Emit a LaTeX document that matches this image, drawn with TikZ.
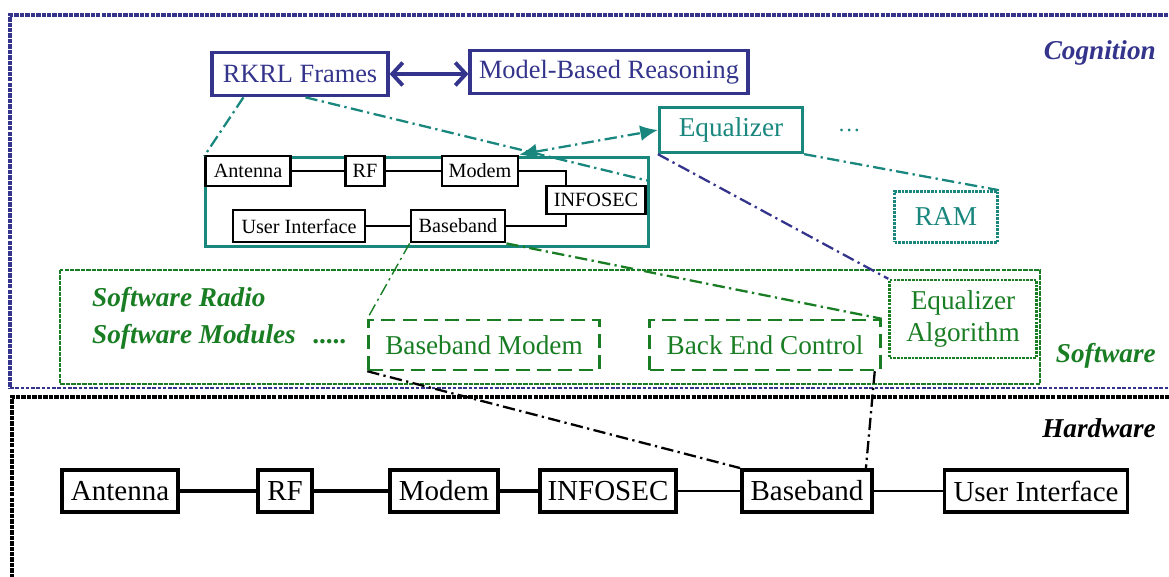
\documentclass[tikz,border=0pt]{standalone}
\usepackage{fontspec}
\setmainfont{Liberation Serif}
\usepackage{tikz}
\usetikzlibrary{arrows, arrows.meta, positioning, calc}

\definecolor{cogblue}{RGB}{52,52,140}
\definecolor{cogteal}{RGB}{25,135,125}
\definecolor{swgreen}{RGB}{25,125,35}

\begin{document}
\begin{tikzpicture}[x=0.2mm, y=-0.2mm,
    cogbox/.style={rectangle, draw=cogblue, line width=1.8pt, text=cogblue, fill=white, inner sep=0pt, minimum height=8.7mm, font=\fontsize{15}{18}\selectfont},
    eqbox/.style={rectangle, draw=cogteal, line width=1.9pt, text=cogteal, fill=white, inner sep=0pt, font=\fontsize{15.5}{18}\selectfont},
    smallbox/.style={rectangle, draw, line width=1.6pt, fill=white, inner sep=0pt, minimum height=6mm, font=\fontsize{11.5}{13}\selectfont},
    swbox/.style={rectangle, draw=swgreen, line width=1.4pt, dash pattern=on 8pt off 4pt, text=swgreen, inner sep=0pt, minimum width=46.2mm, minimum height=10mm, font=\fontsize{15.5}{18}\selectfont},
    hwbox/.style={rectangle, draw, line width=2.2pt, fill=white, inner sep=0pt, minimum height=8.4mm, font=\fontsize{16.5}{19}\selectfont},
    layerlabel/.style={anchor=east, font=\fontsize{15.5}{18}\selectfont\bfseries\itshape},
    layerframe/.style={line width=2pt, dash pattern=on 2.5pt off 0.6pt},
    link/.style={line width=1.3pt},
    dashdot/.style={line width=1.3pt, dash pattern=on 7pt off 2.5pt on 1.3pt off 2.5pt}]

    \useasboundingbox (0,0) rectangle (1169,577);

    % Layer frames
    \draw[layerframe, cogblue] (1190,15) -- (10,15) -- (10,388);
    \draw[cogblue, line width=0.8pt, dash pattern=on 2pt off 1pt] (10,388) -- (1190,388);
    \draw[layerframe, swgreen, line width=1.6pt] (60,270) rectangle (1040,384);
    \draw[layerframe] (12,600) -- (12,397) -- (1190,397);

    % Cognition layer
    \node[cogbox, minimum width=35.2mm] (rkrl) at (300,74) {RKRL Frames};
    \node[cogbox, minimum width=55.6mm] (mbr) at (609,72) {Model-Based Reasoning};
    \node[layerlabel, text=cogblue] (cog) at (1162,53) {Cognition};

    \node[eqbox, minimum width=28.6mm, minimum height=9mm] (eq) at (731,130) {Equalizer};
    \node[right=5.5mm of eq, text=cogteal, font=\fontsize{13}{15}\selectfont] (more) {\dots};
    \node[eqbox, line width=1.5pt, dash pattern=on 1.5pt off 0.6pt, minimum width=20.6mm, minimum height=10.2mm] (ram) at (946,217) {RAM};

    % Radio chain inside the cognition layer
    \node[rectangle, draw=cogteal, line width=1.5pt, minimum width=88.6mm, minimum height=17.8mm] (radio) at (427,202) {};
    \node[smallbox, minimum width=17mm] (sqant) at (248,171) {Antenna};
    \node[smallbox, minimum width=7.8mm] (sqrf) at (365,171) {RF};
    \node[smallbox, minimum width=15.2mm] (sqmod) at (480,171) {Modem};
    \node[smallbox, minimum width=19.8mm, minimum height=5.6mm] (sqsec) at (596,200) {INFOSEC};
    \node[smallbox, minimum width=26.4mm, minimum height=6.4mm] (squi) at (299,226) {User Interface};
    \node[smallbox, minimum width=18.8mm, minimum height=6.4mm] (sqbb) at (458,226) {Baseband};

    \draw[link] (sqant) -- (sqrf);
    \draw[link] (sqrf) -- (sqmod);
    \draw[link] (sqmod.east) -| ($(sqsec.north west)+(21,0)$);
    \draw[link] ($(sqsec.south west)+(21,0)$) |- (sqbb.east);
    \draw[link] (sqbb) -- (squi);

    % Software layer
    \node[anchor=west, align=left, text=swgreen, font=\fontsize{15.5}{21}\selectfont\bfseries\itshape] (swmods) at (86,318) {Software Radio\\Software Modules\hspace{3.5mm}.....};
    \node[swbox] (bbmod) at (484,345) {Baseband Modem};
    \node[swbox] (bec) at (765,345) {Back End Control};
    \node[swbox, dash pattern=on 1.5pt off 0.6pt, minimum width=29.4mm, minimum height=15.6mm, align=center] (eqalg) at (963,319) {Equalizer\\Algorithm};
    \node[layerlabel, text=swgreen] (sw) at (1162,356) {Software};

    % Hardware layer
    \node[layerlabel] (hw) at (1162,428) {Hardware};
    \node[hwbox, minimum width=23.2mm] (hwant) at (120,491) {Antenna};
    \node[hwbox, minimum width=10.8mm] (hwrf) at (285,491) {RF};
    \node[hwbox, minimum width=21.6mm] (hwmod) at (444,491) {Modem};
    \node[hwbox, minimum width=27.2mm] (hwsec) at (608,491) {INFOSEC};
    \node[hwbox, minimum width=26mm] (hwbb) at (807,491) {Baseband};
    \node[hwbox, minimum width=36.6mm] (hwui) at (1036,491) {User Interface};

    \draw[line width=1.9pt] (hwant) -- (hwrf);
    \draw[line width=1.9pt] (hwrf) -- (hwmod);
    \draw[line width=1.9pt] (hwmod) -- (hwsec);
    \draw[line width=1.1pt] (hwsec) -- (hwbb);
    \draw[line width=1.1pt] (hwbb) -- (hwui);

    % Links between the layers
    \draw[cogblue, line width=2.2pt, {Straight Barb[length=6pt,width=13pt]}-{Straight Barb[length=6pt,width=13pt]}] (rkrl.east) -- (rkrl.east -| mbr.west);
    \draw[dashdot, cogteal] ($(rkrl.south west)+(33,0)$) -- (radio.north west);
    \draw[dashdot, cogteal] ($(rkrl.south west)+(95,0)$) -- ($(radio.north east)+(0,25)$);
    \draw[dashdot, cogteal, {Latex[length=10pt,width=9pt]}-{Latex[length=10pt,width=9pt]}] (sqmod.north east) -- (eq.west);
    \draw[dashdot, cogblue] (eq.south west) -- (eqalg.north west);
    \draw[dashdot, cogteal] (eq.south east) -- (ram.north east);
    \draw[dashdot, swgreen, line width=0.8pt] (sqbb.south west) -- (bbmod.north west);
    \draw[dashdot, swgreen] (sqbb.south east) -- (bec.north east);
    \draw[dashdot] (bbmod.south west) -- (hwbb.north west);
    \draw[dashdot] ($(bec.south east)+(-7,0)$) -- ($(hwbb.north east)+(-8,0)$);

\end{tikzpicture}
\end{document}
